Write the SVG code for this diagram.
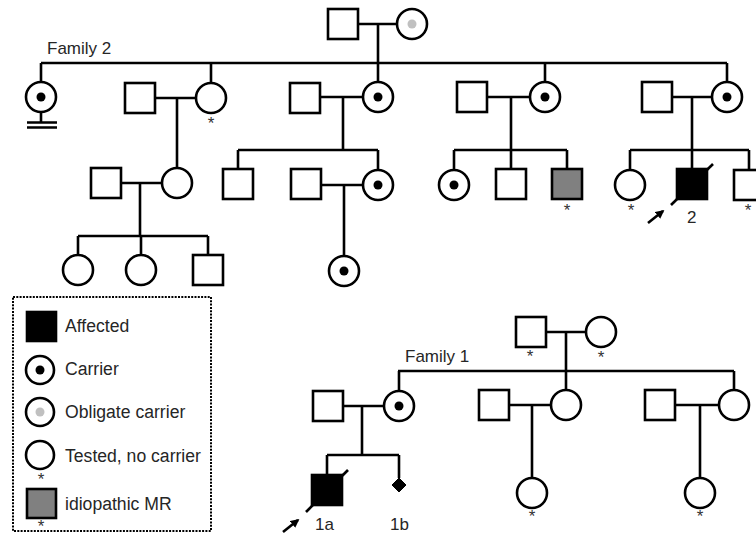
<svg xmlns="http://www.w3.org/2000/svg" width="756" height="535" viewBox="0 0 756 535">
<defs>
<style>
.sq{fill:#fff;stroke:#000;stroke-width:2.6}
.ci{fill:#fff;stroke:#000;stroke-width:2.6}
.aff{fill:#000;stroke:#000;stroke-width:2.6}
.mr{fill:#808080;stroke:#000;stroke-width:2.6}
.dot{fill:#000}
.gdot{fill:#c0c0c0}
.ln{fill:none;stroke:#000;stroke-width:2.6}
.txt{font-family:"Liberation Sans",Arial,sans-serif;font-size:17px;fill:#262626}
.leg{font-family:"Liberation Sans",Arial,sans-serif;font-size:17.6px;fill:#262626}
.ast{font-family:"Liberation Sans",Arial,sans-serif;font-size:17px;fill:#333;text-anchor:middle}
.lbl{font-family:"Liberation Sans",Arial,sans-serif;font-size:17px;fill:#262626}
</style>
<marker id="ah" viewBox="0 0 10 10" refX="8" refY="5" markerWidth="3.4" markerHeight="3.4" orient="auto">
<path d="M0,0 L10,5 L0,10 Z" fill="#000"/>
</marker>
</defs>
<rect width="756" height="535" fill="#fff"/>

<g id="connectors" class="ln">
<path d="M358,24 H397 M378,24 V63 M41,63 H727"/>
<path d="M41,63 V82 M211,63 V83 M378,63 V82 M545,63 V82 M727,63 V82"/>
<path d="M41,112 V122.5"/>
<path d="M27,122.5 H57 M27,127.5 H57"/>
<path d="M155,98 H196 M177,98 V168"/>
<path d="M121,183 H162 M140,183 V236 M78,236 H208 M78,236 V255 M141,236 V255 M208,236 V255"/>
<path d="M320,97 H363 M343,97 V150 M238,150 H378 M238,150 V169 M378,150 V170"/>
<path d="M321,185 H363 M344,185 V256"/>
<path d="M487,97 H530 M511,97 V150 M454,150 H567 M454,150 V170 M511,150 V169 M567,150 V169"/>
<path d="M672,97 H712 M692,97 V150 M630,150 H749 M630,150 V170 M692,150 V169 M749,150 V170"/>
<path d="M546,332 H586 M566,332 V371 M398,371 H734 M399,371 V391 M566,371 V390 M734,371 V390"/>
<path d="M343,406 H384 M362,406 V455 M327,455 H399 M327,455 V475 M399,455 V478"/>
<path d="M509,405 H551 M532,405 V478"/>
<path d="M675,405 H719 M700,405 V478"/>
</g>

<text class="txt" x="47" y="54">Family 2</text>
<text class="txt" x="405" y="362">Family 1</text>

<g id="f2-grandfather"><rect class="sq" x="328" y="9" width="30" height="30"/></g>
<g id="f2-grandmother"><circle class="ci" cx="412" cy="24" r="15"/><circle class="gdot" cx="412" cy="24" r="4.5"/></g>

<g id="f2-g2-a"><circle class="ci" cx="41" cy="97" r="15"/><circle class="dot" cx="41" cy="97" r="4.5"/></g>
<g id="f2-g2-b-husband"><rect class="sq" x="125" y="83" width="30" height="30"/></g>
<g id="f2-g2-b"><circle class="ci" cx="211" cy="98" r="15"/><text class="ast" x="211" y="129">*</text></g>
<g id="f2-g2-c-husband"><rect class="sq" x="290" y="83" width="30" height="30"/></g>
<g id="f2-g2-c"><circle class="ci" cx="378" cy="97" r="15"/><circle class="dot" cx="378" cy="97" r="4.5"/></g>
<g id="f2-g2-d-husband"><rect class="sq" x="457" y="82" width="30" height="30"/></g>
<g id="f2-g2-d"><circle class="ci" cx="545" cy="97" r="15"/><circle class="dot" cx="545" cy="97" r="4.5"/></g>
<g id="f2-g2-e-husband"><rect class="sq" x="642" y="82" width="30" height="30"/></g>
<g id="f2-g2-e"><circle class="ci" cx="727" cy="97" r="15"/><circle class="dot" cx="727" cy="97" r="4.5"/></g>

<g id="f2-g3-b-husband"><rect class="sq" x="91" y="168" width="30" height="30"/></g>
<g id="f2-g3-b"><circle class="ci" cx="177" cy="183" r="15"/></g>
<g id="f2-g4-b1"><circle class="ci" cx="78" cy="270" r="15"/></g>
<g id="f2-g4-b2"><circle class="ci" cx="141" cy="270" r="15"/></g>
<g id="f2-g4-b3"><rect class="sq" x="193" y="255" width="30" height="30"/></g>

<g id="f2-g3-c1"><rect class="sq" x="223" y="169" width="30" height="30"/></g>
<g id="f2-g3-c-husband"><rect class="sq" x="291" y="169" width="30" height="30"/></g>
<g id="f2-g3-c2"><circle class="ci" cx="378" cy="185" r="15"/><circle class="dot" cx="378" cy="185" r="4.5"/></g>
<g id="f2-g4-c"><circle class="ci" cx="344" cy="271" r="15"/><circle class="dot" cx="344" cy="271" r="4.5"/></g>

<g id="f2-g3-d1"><circle class="ci" cx="454" cy="185" r="15"/><circle class="dot" cx="454" cy="185" r="4.5"/></g>
<g id="f2-g3-d2"><rect class="sq" x="496" y="169" width="30" height="30"/></g>
<g id="f2-g3-d3"><rect class="mr" x="552" y="169" width="30" height="30"/><text class="ast" x="567" y="216">*</text></g>

<g id="f2-g3-e1"><circle class="ci" cx="630" cy="185" r="15"/><text class="ast" x="631" y="216">*</text></g>
<g id="f2-g3-e2-proband"><rect class="aff" x="677" y="169" width="30" height="30"/><line class="ln" x1="671" y1="205" x2="713" y2="164"/><line class="ln" x1="648" y1="223" x2="663" y2="211" marker-end="url(#ah)"/><text class="lbl" x="687" y="223">2</text></g>
<g id="f2-g3-e3"><rect class="sq" x="734" y="170" width="30" height="30"/><text class="ast" x="748" y="216">*</text></g>

<g id="f1-grandfather"><rect class="sq" x="516" y="317" width="30" height="30"/><text class="ast" x="530" y="362">*</text></g>
<g id="f1-grandmother"><circle class="ci" cx="601" cy="332" r="15"/><text class="ast" x="601" y="363">*</text></g>
<g id="f1-g2-a-husband"><rect class="sq" x="313" y="391" width="30" height="30"/></g>
<g id="f1-g2-a"><circle class="ci" cx="399" cy="406" r="15"/><circle class="dot" cx="399" cy="406" r="4.5"/></g>
<g id="f1-g2-b-husband"><rect class="sq" x="479" y="390" width="30" height="30"/></g>
<g id="f1-g2-b"><circle class="ci" cx="566" cy="405" r="15"/></g>
<g id="f1-g2-c-husband"><rect class="sq" x="645" y="390" width="30" height="30"/></g>
<g id="f1-g2-c"><circle class="ci" cx="734" cy="405" r="15"/></g>
<g id="f1-1a"><rect class="aff" x="312" y="475" width="30" height="30"/><line class="ln" x1="306" y1="512" x2="348" y2="470"/><line class="ln" x1="283" y1="532" x2="298" y2="520" marker-end="url(#ah)"/><text class="lbl" x="315" y="530">1a</text></g>
<g id="f1-1b"><path d="M399,478 L406,485 L399,492 L392,485 Z" fill="#000" stroke="#000" stroke-width="1"/><text class="lbl" x="390" y="530">1b</text></g>
<g id="f1-g3-b"><circle class="ci" cx="532" cy="493" r="15"/><text class="ast" x="532" y="522">*</text></g>
<g id="f1-g3-c"><circle class="ci" cx="700" cy="493" r="15"/><text class="ast" x="700" y="522">*</text></g>

<g id="legend">
<rect x="13" y="297" width="198" height="234" fill="none" stroke="#000" stroke-width="2" stroke-dasharray="2 1.3"/>
<rect class="aff" x="27" y="312" width="29" height="29"/>
<text class="leg" x="65" y="332">Affected</text>
<circle class="ci" cx="40" cy="370" r="14"/><circle class="dot" cx="40" cy="370" r="4.5"/>
<text class="leg" x="65" y="375">Carrier</text>
<circle class="ci" cx="40" cy="412" r="14"/><circle class="gdot" cx="40" cy="412" r="4.5"/>
<text class="leg" x="65" y="418">Obligate carrier</text>
<circle class="ci" cx="40" cy="455" r="14"/><text class="ast" x="41" y="485">*</text>
<text class="leg" x="65" y="462">Tested, no carrier</text>
<rect class="mr" x="27" y="489" width="29" height="29"/><text class="ast" x="41" y="532">*</text>
<text class="leg" x="65" y="510">idiopathic MR</text>
</g>
</svg>
